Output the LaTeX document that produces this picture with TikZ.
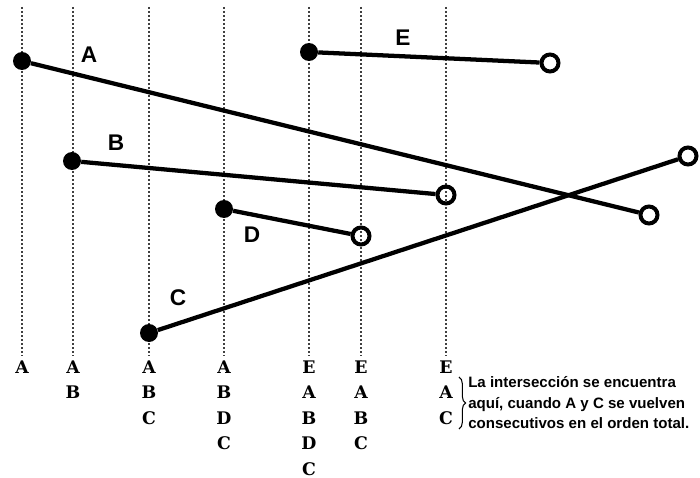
\documentclass[tikz,border=0pt]{standalone}
\usepackage{fontspec}
\setmainfont{DejaVu Serif}
\setsansfont{Liberation Sans}
\usetikzlibrary{decorations.pathreplacing}
\tikzset{
  every picture/.style={
    x=0.75pt, y=-0.75pt
  },
  point/.style={
    circle, fill, minimum width=13.5pt,
    inner sep=0pt
  },
  hollow/.style={
    circle, draw, line width=3pt, minimum width=12.75pt,
    inner sep=0pt
  }
}

\begin{document}
\begin{tikzpicture}[
    seg/.style={line width=3.2pt},
    guide/.style={black!75, line width=1.8pt, dash pattern=on 1.5pt off 1.5pt},
    order/.style={font=\bfseries\fontsize{13}{15}\selectfont, inner sep=0pt},
    seglabel/.style={font=\sffamily\bfseries\fontsize{17}{20}\selectfont, inner sep=0pt},
    note/.style={font=\sffamily\bfseries\fontsize{11.3}{15.4}\selectfont, align=left, inner sep=0pt}
  ]
  \useasboundingbox (0,0) rectangle (700,478);
  % sweep line positions and the order of the segments there
  \foreach \x/\lst [count=\i] in {22/{A}, 73/{A,B}, 149/{A,B,C}, 224/{A,B,D,C},
      309/{E,A,B,D,C}, 361/{E,A,B,C}, 446/{E,A,C}} {
    \coordinate (t\i) at (\x,7);
    \foreach \s [count=\j] in \lst
      \node[order] (o\i-\j) at (\x,{367+25.5*(\j-1)}) {\s};
    \draw[guide] (t\i) -- ([yshift=3pt]o\i-1.north);
  }
  % segments
  \node[point] (a0) at (22,61) {};
  \node[hollow] (a1) at (649,215) {};
  \node[point] (b0) at (72,161) {};
  \node[hollow] (b1) at (446,195) {};
  \node[point] (c0) at (149,333) {};
  \node[hollow] (c1) at (688,156) {};
  \node[point] (d0) at (224,209) {};
  \node[hollow] (d1) at (361,236) {};
  \node[point] (e0) at (309,52) {};
  \node[hollow] (e1) at (550,63) {};
  \draw[seg] (a0) -- (a1);
  \draw[seg] (b0) -- (b1);
  \draw[seg] (c0) -- (c1);
  \draw[seg] (d0) -- (d1);
  \draw[seg] (e0) -- (e1);
  \node[seglabel] (la) at (89,55) {A};
  \node[seglabel] (lb) at (116,143) {B};
  \node[seglabel] (lc) at (178,298) {C};
  \node[seglabel] (ld) at (252,235) {D};
  \node[seglabel] (le) at (403,38) {E};
  % note on the swap of A and C
  \coordinate (br0) at (459,377);
  \coordinate (br1) at (459,429);
  \draw[line width=0.8pt, decorate, decoration={brace, amplitude=5pt}] (br0) -- (br1);
  \node[note, anchor=west] (txt) at (468,403) {La intersección se encuentra\\
    aquí, cuando A y C se vuelven\\ consecutivos en el orden total.};
\end{tikzpicture}
\end{document}
